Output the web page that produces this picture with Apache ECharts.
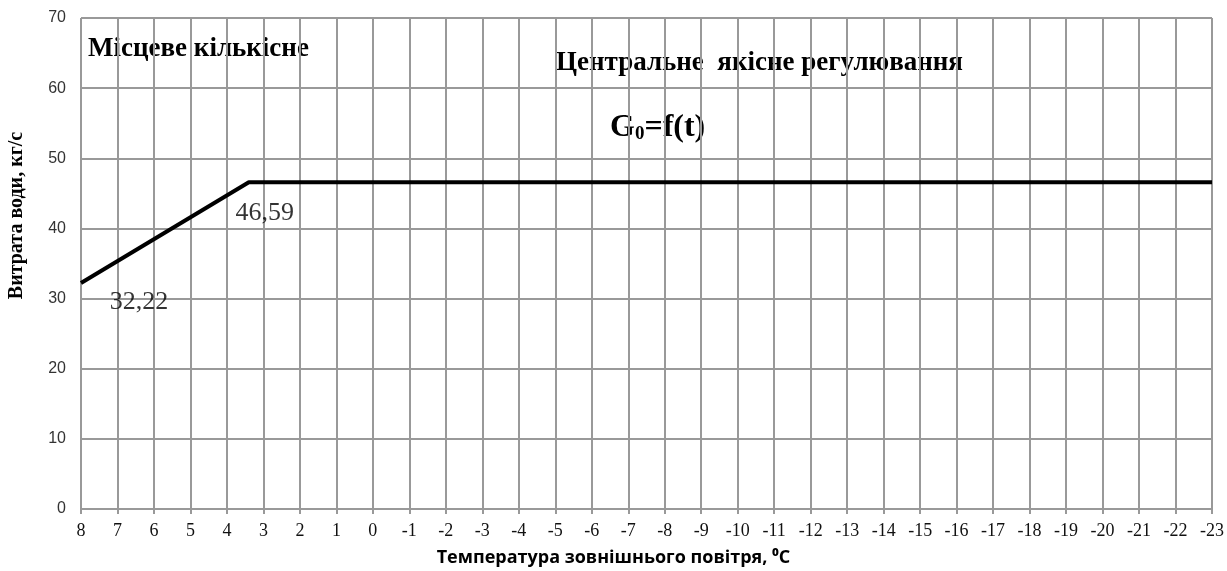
<!DOCTYPE html>
<html>
<head>
<meta charset="utf-8">
<script src="https://cdn.jsdelivr.net/npm/echarts@6/dist/echarts.min.js"></script>
<style>
html,body{margin:0;padding:0;background:#fff;}
#chart{width:1227px;height:571px;}
</style>
</head>
<body>
<div id="chart"></div>
<script>
// Data
const tempX = [8, 3.4, -23];              // outdoor temperature, °C
const flowY = [32.22, 46.59, 46.59];      // water flow, kg/s
const labelIdx = [0, 1];                  // points carrying value labels
const xMin = -23, xMax = 8, xStep = 1;
const yMin = 0, yMax = 70, yStep = 10;
const xTitle = 'Температура зовнішнього повітря, ⁰C';
const yTitle = 'Витрата води, кг/с';
const noteLocal = 'Місцеве кількісне';
const noteCentral = 'Центральне  якісне регулювання';

const lineData = tempX.map((x, i) => [x, flowY[i]]);
const labelOffsets = [[58, 19], [16, 31]];
const labelData = labelIdx.map((i, k) => ({
  value: [tempX[i], flowY[i]],
  label: { offset: labelOffsets[k] }
}));

const serif = '"Liberation Serif", "Times New Roman", serif';
const grey = '#999999';

const chart = echarts.init(document.getElementById('chart'));
chart.setOption({
  backgroundColor: '#fff',
  animation: false,
  grid: { left: 81, right: 15, top: 18, bottom: 62, containLabel: false, outerBoundsMode: 'none' },
  xAxis: {
    type: 'value', min: xMin, max: xMax, interval: xStep, inverse: true,
    axisLine: { show: true, onZero: false, lineStyle: { color: grey, width: 2 } },
    axisTick: { show: true, length: 5, lineStyle: { color: grey, width: 2 } },
    splitLine: { show: true, lineStyle: { color: grey, width: 2 } },
    axisLabel: { fontFamily: serif, fontSize: 18, color: '#111', margin: 13 },
    name: xTitle, nameLocation: 'middle', nameGap: 40,
    nameTextStyle: { fontFamily: '"Open Sans", Lato, sans-serif', fontWeight: 'bold', fontSize: 18, color: '#000', padding: [0, 66, 0, 0] }
  },
  yAxis: {
    type: 'value', min: yMin, max: yMax, interval: yStep,
    axisLine: { show: true, lineStyle: { color: grey, width: 2 } },
    axisTick: { show: true, length: 5, lineStyle: { color: grey, width: 2 } },
    splitLine: { show: true, lineStyle: { color: grey, width: 2 } },
    axisLabel: { fontFamily: '"Liberation Sans", Arial, sans-serif', fontSize: 16, color: '#333', margin: 15 },
    name: yTitle, nameLocation: 'middle', nameGap: 54, nameRotate: 90,
    nameTextStyle: { fontFamily: serif, fontWeight: 'bold', fontSize: 20, color: '#000', padding: [0, 0, 0, 96] }
  },
  series: [
    {
      type: 'line', data: lineData, symbol: 'none',
      lineStyle: { color: '#000', width: 4 }, z: 3
    },
    {
      type: 'scatter', data: labelData, symbolSize: 1,
      itemStyle: { color: 'rgba(0,0,0,0)' },
      label: {
        show: true, position: 'inside', align: 'center', verticalAlign: 'middle',
        fontFamily: serif, fontSize: 26, color: '#000',
        formatter: p => String(p.value[1]).replace('.', ',')
      }, z: 4
    }
  ],
  graphic: [
    { type: 'text', left: 88, top: 36, style: { text: noteLocal, font: 'bold 27px ' + serif, fill: '#000' } },
    { type: 'text', left: 556, top: 50, style: { text: noteCentral, font: 'bold 27px ' + serif, fill: '#000' } },
    { type: 'text', left: 610, top: 112, style: {
        text: '{g|G}{s|0}{g|=f(t)}',
        rich: {
          g: { fontFamily: serif, fontWeight: 'bold', fontSize: 32, lineHeight: 36, verticalAlign: 'bottom', fill: '#000' },
          s: { fontFamily: serif, fontWeight: 'bold', fontSize: 19, lineHeight: 21, verticalAlign: 'bottom', fill: '#000' }
        }
    } }
  ]
});
</script>
</body>
</html>
